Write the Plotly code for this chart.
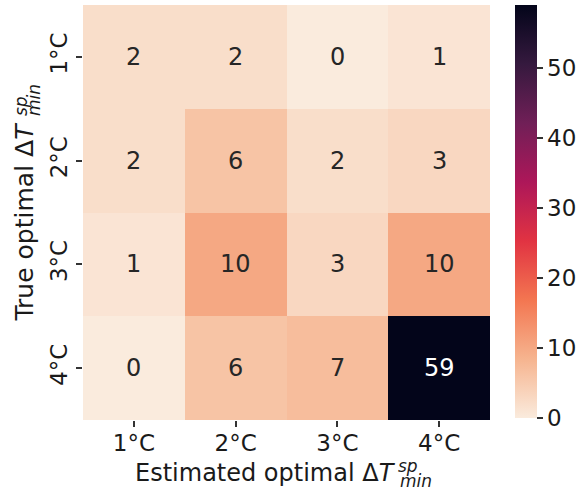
import plotly.graph_objects as go

# Data
est_labels = ["1°C", "2°C", "3°C", "4°C"]   # columns (estimated)
true_labels = ["1°C", "2°C", "3°C", "4°C"]  # rows (true)
counts = [
    [2, 2, 0, 1],
    [2, 6, 2, 3],
    [1, 10, 3, 10],
    [0, 6, 7, 59],
]
cbar_ticks = [0, 10, 20, 30, 40, 50]

# rocket_r colorscale
rocket_r = [
    [0.0, "#faebdd"],
    [1 / 7, "#f6b48f"],
    [2 / 7, "#f37651"],
    [3 / 7, "#e13342"],
    [4 / 7, "#ad1759"],
    [5 / 7, "#701f57"],
    [6 / 7, "#35193e"],
    [1.0, "#03051a"],
]

W, H = 580, 496
L, R, T, B = 83, 90, 5, 76
pw, ph = W - L - R, H - T - B

def px_x(x):
    return (x - L) / pw

def px_y(y):
    return (H - B - y) / ph

zmin, zmax = 0, 59
fig = go.Figure(
    go.Heatmap(
        z=counts,
        x=est_labels,
        y=true_labels,
        colorscale=rocket_r,
        zmin=zmin,
        zmax=zmax,
        showscale=True,
        colorbar=dict(
            x=px_x(515), xanchor="left", xpad=0,
            y=1, yanchor="top", len=413 / ph, lenmode="fraction", ypad=0,
            thickness=22, outlinewidth=0,
            tickvals=cbar_ticks, ticks="outside", ticklen=6, tickwidth=1.5,
            tickcolor="#333333",
            tickfont=dict(size=23, color="#1a1a1a"),
        ),
        hoverinfo="skip",
    )
)

font = "DejaVu Sans"
annots = []
for i, row in enumerate(counts):
    for j, v in enumerate(row):
        frac = (v - zmin) / (zmax - zmin)
        col = "#ffffff" if frac > 0.6 else "#262626"
        annots.append(dict(
            x=est_labels[j], y=true_labels[i], xref="x", yref="y",
            text=str(v), showarrow=False,
            font=dict(size=24, color=col, family=font),
        ))

# x axis title (stacked sub/sup)
annots += [
    dict(x=px_x(398), y=px_y(473), xref="paper", yref="paper",
         xanchor="right", yanchor="middle", showarrow=False,
         text="Estimated optimal Δ<i>T</i>", font=dict(size=24, color="#1a1a1a")),
    dict(x=px_x(396), y=px_y(466), xref="paper", yref="paper",
         xanchor="left", yanchor="middle", showarrow=False,
         text="<i>sp</i>", font=dict(size=17, color="#1a1a1a")),
    dict(x=px_x(398), y=px_y(481), xref="paper", yref="paper",
         xanchor="left", yanchor="middle", showarrow=False,
         text="<i>min</i>", font=dict(size=17, color="#1a1a1a")),
]
# y axis title (rotated)
annots += [
    dict(x=px_x(24), y=px_y(121), xref="paper", yref="paper",
         xanchor="center", yanchor="top", textangle=-90, showarrow=False,
         text="True optimal Δ<i>T</i>", font=dict(size=25, color="#1a1a1a")),
    dict(x=px_x(21), y=px_y(118), xref="paper", yref="paper",
         xanchor="center", yanchor="bottom", textangle=-90, showarrow=False,
         text="<i>sp</i>", font=dict(size=17, color="#1a1a1a")),
    dict(x=px_x(34), y=px_y(118), xref="paper", yref="paper",
         xanchor="center", yanchor="bottom", textangle=-90, showarrow=False,
         text="<i>min</i>", font=dict(size=17, color="#1a1a1a")),
]

fig.update_layout(
    width=W, height=H,
    margin=dict(l=L, r=R, t=T, b=B, pad=0, autoexpand=False),
    paper_bgcolor="white", plot_bgcolor="white",
    font=dict(family=font, color="#1a1a1a"),
    annotations=annots,
)
fig.update_xaxes(
    type="category", showgrid=False, zeroline=False, showline=False,
    ticks="outside", ticklen=6, tickwidth=1.5, tickcolor="#333333",
    tickfont=dict(size=23, color="#1a1a1a"), ticklabelstandoff=-4,
    automargin=False,
)
fig.update_yaxes(
    type="category", autorange="reversed", showgrid=False, zeroline=False,
    showline=False, ticks="outside", ticklen=6, tickwidth=1.5,
    tickcolor="#333333", tickangle=-90,
    tickfont=dict(size=23, color="#1a1a1a"), automargin=False,
)

fig.write_html(
    "out.html",
    config={"displayModeBar": False},
    post_script="document.body.style.margin='0';document.body.style.overflow='hidden';",
)
